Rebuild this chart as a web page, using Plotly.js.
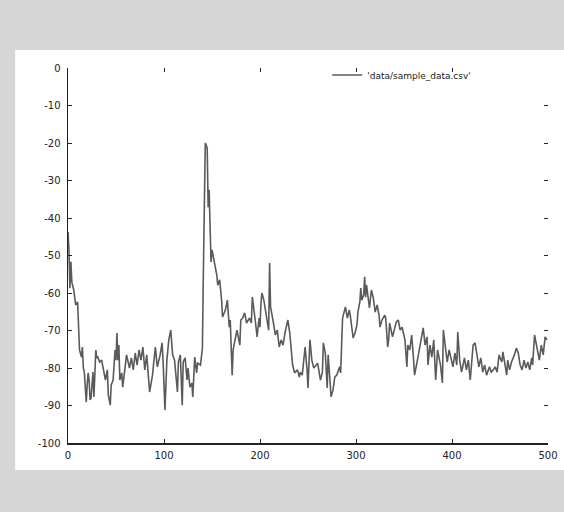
<!DOCTYPE html>
<html>
<head>
<meta charset="utf-8">
<script src="https://cdn.plot.ly/plotly-3.0.1.min.js"></script>
<style>html,body{margin:0;padding:0;background:#d6d6d6;}#chart{width:564px;height:512px;}</style>
</head>
<body>
<div id="chart"></div>
<script>
const seriesName = "'data/sample_data.csv'";
const xValues = [0,1,2,3,4,6,8,10,12,14,15,16,17,18,19,20,21,22,23,24,25,26,27,28,29,30,31,33,35,36,39,41,42,44,45,47,49,50,51,52,53,54,56,57,59,61,64,66,68,70,72,74,76,78,80,82,83,85,88,91,93,96,98,99,101,102,103,105,107,109,111,114,115,117,119,120,122,124,125,127,129,130,132,134,135,138,140,141,143,145,146,147,149,150,151,153,155,156,158,160,161,164,166,168,169,171,172,174,176,179,180,182,184,186,189,191,192,195,197,199,200,201,202,204,205,207,209,210,211,214,216,218,220,222,224,226,229,231,233,234,236,239,241,242,244,247,249,250,252,254,256,258,260,263,265,266,268,270,271,273,274,276,278,280,283,284,285,286,289,291,293,294,297,299,301,302,304,305,306,308,309,310,311,314,316,318,320,322,324,325,327,330,331,333,334,335,338,340,342,344,346,348,351,353,354,356,358,360,361,364,366,368,370,372,374,375,377,379,381,383,385,388,390,391,393,395,397,399,401,403,405,406,408,410,413,415,417,419,421,422,424,426,428,430,432,434,436,439,441,443,445,447,449,450,452,453,455,457,458,460,462,465,467,469,471,473,475,477,479,481,483,484,486,489,491,493,495,497,499];
const yValues = [-43.7,-48.5,-58.7,-51.7,-57.1,-59.2,-63.2,-62.4,-75.2,-77.1,-74.4,-80,-81.1,-85.9,-89.1,-84.5,-81.3,-83.2,-88.5,-88,-84.5,-81.1,-87.7,-79.7,-75.2,-77.3,-77.1,-78.4,-77.9,-79.2,-83.2,-80.5,-87.2,-89.9,-84.5,-83.2,-75.2,-77.9,-70.7,-77.9,-73.9,-83.2,-81.3,-85.1,-80.5,-76.5,-80,-77.3,-80.5,-76,-79.2,-75.2,-77.9,-74.4,-80.5,-76.5,-79.7,-86.4,-81.9,-74.4,-79.7,-76.5,-73.3,-77.9,-91.2,-85.9,-77.9,-72.5,-69.9,-76.5,-77.9,-86.4,-78.4,-76.5,-89.9,-78.4,-77.3,-83.2,-80,-85.1,-84,-87.7,-77.1,-81.3,-78.7,-79.2,-74.7,-54.7,-20,-21.3,-37.1,-32.5,-51.7,-48.5,-49.9,-52,-55.2,-57.9,-56.5,-61.9,-66.4,-64.5,-61.9,-69.1,-67.2,-81.9,-75.2,-72.5,-69.9,-73.9,-67.2,-66.7,-65.3,-68,-66.7,-68,-61.1,-67.2,-71.7,-66.7,-69.1,-62.7,-60,-61.9,-63.7,-66.4,-69.9,-52,-63.7,-68,-71.2,-69.9,-74.4,-72.5,-73.9,-70.7,-67.2,-70.7,-75.7,-79.2,-81.3,-80.5,-82.4,-81.1,-81.9,-74.4,-80.5,-85.3,-72.5,-77.9,-80,-79.2,-78.7,-83.2,-81.1,-73.3,-76,-85.3,-76.5,-83.7,-87.7,-85.9,-82.4,-81.9,-79.7,-81.3,-70.4,-66.7,-63.7,-66.7,-64.5,-65.9,-72,-70.7,-68.5,-65.1,-62.4,-58.7,-61.9,-60.5,-55.7,-61.1,-57.9,-64,-59.2,-61.3,-65.1,-63.2,-65.9,-69.1,-67.2,-65.9,-66.7,-74.4,-72.5,-68,-71.7,-69.3,-67.7,-67.2,-69.9,-69.1,-72.5,-79.7,-73.9,-75.2,-71.2,-77.9,-81.9,-77.9,-75.2,-72.5,-69.3,-73.9,-71.7,-79.2,-73.9,-77.1,-72.5,-83.2,-75.2,-79.2,-84,-69.9,-73.9,-78.4,-75.2,-77.9,-79.7,-76,-79.2,-70.4,-77.9,-81.1,-77.3,-80.5,-77.9,-83.2,-76.5,-73.9,-73.3,-76.5,-79.7,-77.3,-81.1,-79.2,-81.9,-79.7,-81.1,-80.5,-79.7,-81.1,-76.5,-77.3,-78.4,-75.7,-79.2,-81.9,-77.9,-80.5,-78.4,-76.5,-74.7,-76,-79.2,-80.5,-77.9,-80,-78.4,-80.5,-77.3,-79.2,-71.2,-75.2,-77.9,-73.9,-76.5,-71.7,-72.5];
const xTicks = [0,100,200,300,400,500];
const yTicks = [0,-10,-20,-30,-40,-50,-60,-70,-80,-90,-100];

const trace = {
  x: xValues, y: yValues, type: 'scatter', mode: 'lines', name: seriesName,
  line: {color: '#5a5a5a', width: 1.6}
};
const tickFont = {family: 'DejaVu Sans, sans-serif', size: 10, color: '#222'};
const layout = {
  width: 564, height: 512,
  paper_bgcolor: '#d6d6d6', plot_bgcolor: '#ffffff',
  margin: {l: 68, r: 16, t: 68, b: 69},
  showlegend: true,
  legend: {x: 0.54, y: 1.02, xanchor: 'left', yanchor: 'top', bgcolor: 'rgba(0,0,0,0)',
           font: {family: 'DejaVu Sans, sans-serif', size: 9, color: '#222'}},
  xaxis: {range: [0, 500], tickvals: xTicks, ticktext: xTicks.map(String), ticks: 'inside', ticklen: 4,
          tickcolor: '#222', showline: true, linecolor: '#222', linewidth: 1.5, showgrid: false,
          zeroline: false, tickfont: tickFont, ticklabelstandoff: 2},
  yaxis: {range: [-100, 0], tickvals: yTicks, ticktext: yTicks.map(String), ticks: 'inside', ticklen: 4,
          tickcolor: '#222', showline: true, linecolor: '#222', linewidth: 1.5, showgrid: false,
          zeroline: false, tickfont: tickFont, ticklabelstandoff: 4},
  xaxis2: {overlaying: 'x', side: 'top', range: [0, 500], tickvals: xTicks, ticks: 'inside', ticklen: 4,
           tickcolor: '#222', showticklabels: false, showgrid: false, zeroline: false, showline: false},
  yaxis2: {overlaying: 'y', side: 'right', range: [-100, 0], tickvals: yTicks, ticks: 'inside', ticklen: 4,
           tickcolor: '#222', showticklabels: false, showgrid: false, zeroline: false, showline: false},
  shapes: [{type: 'rect', xref: 'paper', yref: 'paper', x0: -0.11, x1: 1.04, y0: -0.072, y1: 1.048,
            fillcolor: '#ffffff', line: {width: 0}, layer: 'below'}]
};
Plotly.newPlot('chart', [trace,
  {x: [0], y: [0], xaxis: 'x2', yaxis: 'y2', type: 'scatter', mode: 'lines', showlegend: false, hoverinfo: 'skip', line: {width: 0}}],
  layout, {staticPlot: true, displayModeBar: false});
</script>
</body>
</html>
